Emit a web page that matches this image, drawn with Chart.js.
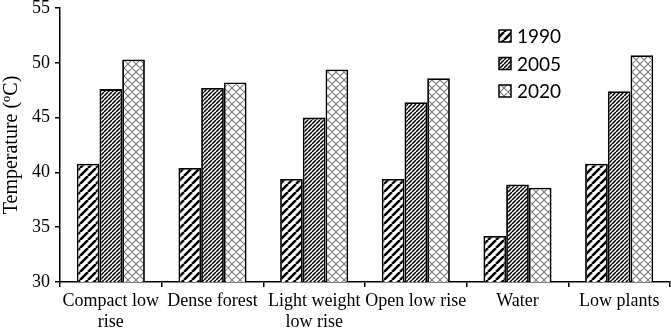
<!DOCTYPE html>
<html>
<head>
<meta charset="utf-8">
<script src="https://cdn.jsdelivr.net/npm/chart.js@4"></script>
<style>
  html, body { margin: 0; padding: 0; background: #fff; }
  #wrap { width: 671px; height: 330px; }
</style>
</head>
<body>
<div id="wrap"><canvas id="chart" width="671" height="330"></canvas></div>
<script>
const categories = [["Compact low", "rise"], "Dense forest", ["Light weight", "low rise"], "Open low rise", "Water", "Low plants"];
const years = ["1990", "2005", "2020"];
const temp1990 = [40.8, 40.4, 39.4, 39.4, 34.2, 40.8];
const temp2005 = [47.6, 47.7, 45.0, 46.4, 38.9, 47.4];
const temp2020 = [50.3, 48.2, 49.4, 48.6, 38.6, 50.7];
const yTicks = [30, 35, 40, 45, 50, 55];

// hatch fills
function stripes(size, width, color) {
  const c = document.createElement("canvas");
  c.width = size; c.height = size;
  const g = c.getContext("2d");
  g.fillStyle = "#fff";
  g.fillRect(0, 0, size, size);
  g.strokeStyle = color;
  g.lineWidth = width;
  g.beginPath();
  for (const o of [-size, 0, size]) {
    g.moveTo(o, size);
    g.lineTo(o + size, 0);
  }
  g.stroke();
  return g.createPattern(c, "repeat");
}

function crosshatch(size, width, color) {
  const c = document.createElement("canvas");
  c.width = size; c.height = size;
  const g = c.getContext("2d");
  g.fillStyle = "#fff";
  g.fillRect(0, 0, size, size);
  g.strokeStyle = color;
  g.lineWidth = width;
  g.beginPath();
  for (const o of [-size, 0, size]) {
    g.moveTo(o, size);
    g.lineTo(o + size, 0);
    g.moveTo(o, 0);
    g.lineTo(o + size, size);
  }
  g.stroke();
  return g.createPattern(c, "repeat");
}

const fills = [stripes(8, 2.6, "#000"), stripes(4, 1.5, "#000"), crosshatch(8, 1.1, "#777")];

const insideLegend = {
  id: "insideLegend",
  afterDraw(chart) {
    const ctx = chart.ctx;
    ctx.save();
    ctx.font = "19px Lato";
    ctx.textBaseline = "middle";
    chart.data.datasets.forEach((ds, i) => {
      const y = 36 + i * 27.5;
      ctx.fillStyle = ds.backgroundColor;
      ctx.fillRect(499, y - 6, 12, 12);
      ctx.strokeStyle = "#000";
      ctx.lineWidth = 1.5;
      ctx.strokeRect(499, y - 6, 12, 12);
      ctx.fillStyle = "#000";
      ctx.fillText(ds.label, 517, y + 1);
    });
    ctx.restore();
  }
};

new Chart(document.getElementById("chart"), {
  type: "bar",
  data: {
    labels: categories,
    datasets: [
      { label: years[0], data: temp1990, backgroundColor: fills[0] },
      { label: years[1], data: temp2005, backgroundColor: fills[1] },
      { label: years[2], data: temp2020, backgroundColor: fills[2] },
    ].map(d => Object.assign(d, {
      borderColor: "#000",
      borderWidth: 1.8,
      categoryPercentage: 0.67,
      barPercentage: 1.0,
    })),
  },
  options: {
    responsive: false,
    animation: false,
    layout: { padding: { top: 8, right: 1, left: 0, bottom: 0 } },
    plugins: {
      legend: { display: false },
      tooltip: { enabled: false },
    },
    scales: {
      x: {
        afterFit: (s) => { s.height = 48; s.paddingLeft = 0; s.paddingRight = 0; },
        border: { color: "#000", width: 1.5 },
        grid: { offset: true, drawOnChartArea: false, tickLength: 5, color: "#000", lineWidth: 1.5 },
        ticks: {
          color: "#000",
          font: { family: "Liberation Serif", size: 18 },
          padding: 3,
          maxRotation: 0,
          autoSkip: false,
        },
      },
      y: {
        min: 30,
        max: 55,
        afterFit: (s) => { s.width = 60; s.paddingTop = 0; s.paddingBottom = 0; },
        afterBuildTicks: (s) => { s.ticks = yTicks.map(v => ({ value: v })); },
        border: { color: "#000", width: 1.5 },
        grid: { drawOnChartArea: false, tickLength: 5, color: "#000", lineWidth: 1.5 },
        ticks: {
          color: "#000",
          font: { family: "Liberation Serif", size: 18 },
          padding: 5,
        },
        title: {
          display: true,
          text: "Temperature (ºC)",
          color: "#000",
          font: { family: "Liberation Serif", size: 20 },
          padding: 0,
        },
      },
    },
  },
  plugins: [insideLegend],
});
</script>
</body>
</html>
